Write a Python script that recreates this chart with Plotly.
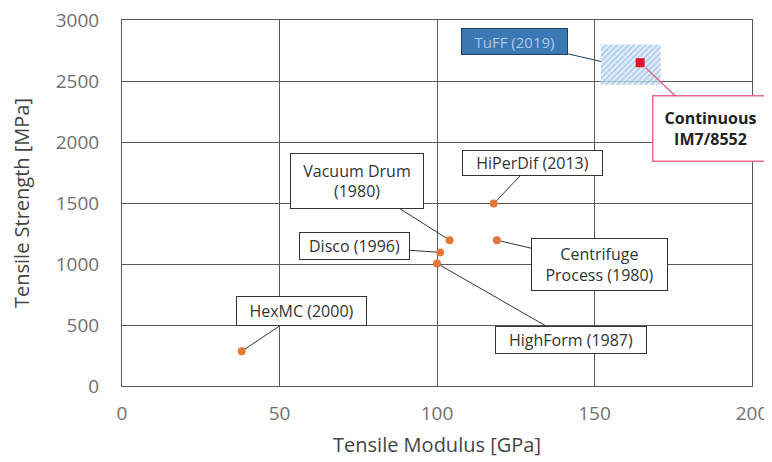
import plotly.graph_objects as go

# Data
labels = ["HexMC (2000)", "Vacuum Drum<br>(1980)", "Disco (1996)", "HighForm (1987)",
          "HiPerDif (2013)", "Centrifuge<br>Process (1980)"]
modulus = [38, 104, 101, 100, 118, 119]
strength = [285, 1195, 1095, 1005, 1495, 1195]

im7_modulus = [164.5]
im7_strength = [2650]
im7_label = "Continuous<br>IM7/8552"

tuff_label = "TuFF (2019)"
tuff_mod = [152, 171, 171, 152, 152]
tuff_str = [2470, 2470, 2800, 2800, 2470]

FONT = "Open Sans"
fig = go.Figure()

fig.add_trace(go.Scatter(
    x=tuff_mod, y=tuff_str, mode="lines", fill="toself",
    line=dict(width=0), fillcolor="rgba(255,255,255,0)",
    fillpattern=dict(shape="/", fgcolor="#6fa3d6", bgcolor="rgba(215,232,250,0.7)", size=4, solidity=0.4),
    hoverinfo="skip", showlegend=False))

fig.add_trace(go.Scatter(
    x=modulus, y=strength, mode="markers",
    marker=dict(color="#e5773a", size=8), showlegend=False))

fig.add_trace(go.Scatter(
    x=im7_modulus, y=im7_strength, mode="markers",
    marker=dict(color="#e8112d", size=9, symbol="square"), showlegend=False))

# callout styling: (ax, ay) offsets, box width, box height (pixels)
callouts = [(60, -40, 129, 28), (-93, -59, 132, 54), (-86, -6, 109, 26),
            (134, 77, 150, 26), (39, -41, 139, 24), (103, 24, 135, 51)]
for lab, xv, yv, (ax, ay, w, h) in zip(labels, modulus, strength, callouts):
    fig.add_annotation(
        x=xv, y=yv, text=lab, showarrow=True, arrowhead=0, arrowwidth=1,
        arrowcolor="#333333", ax=ax, ay=ay, standoff=4,
        width=w, height=h, borderpad=0,
        bgcolor="white", bordercolor="#333333", borderwidth=1,
        font=dict(family=FONT, size=16, color="#333333"))

fig.add_annotation(
    x=tuff_mod[0], y=2660, text=tuff_label, showarrow=True, arrowhead=0,
    arrowwidth=1, arrowcolor="#1f3f66", ax=-86, ay=-20,
    width=105, height=25, borderpad=0,
    bgcolor="#3b78b4", bordercolor="#1f3f66", borderwidth=1,
    font=dict(family=FONT, size=15, color="#a9cbef"))

fig.add_annotation(
    x=im7_modulus[0], y=im7_strength[0], text="<b>" + im7_label + "</b>",
    showarrow=True, arrowhead=0, arrowwidth=1.2, arrowcolor="#e0557a",
    ax=70, ay=66, standoff=8, width=114, height=64, borderpad=0,
    bgcolor="white", bordercolor="#e86a8c", borderwidth=1.5,
    font=dict(family=FONT, size=16, color="#222222"))

axis_common = dict(showgrid=True, gridcolor="#5a5a5a", gridwidth=1,
                   showline=True, linecolor="#5a5a5a", linewidth=1, mirror=True,
                   zeroline=False, ticks="", automargin=False,
                   ticklabeloverflow="allow",
                   tickfont=dict(family=FONT, size=19, color="#707070"))

fig.update_xaxes(range=[0, 200], dtick=50, ticklabelstandoff=10,
                 title=dict(text="Tensile Modulus [GPa]", font=dict(family=FONT, size=20, color="#444444"), standoff=13),
                 **axis_common)
fig.update_yaxes(range=[0, 3000], dtick=500, ticklabelstandoff=18,
                 title=dict(text="Tensile Strength [MPa]", font=dict(family=FONT, size=20, color="#444444"), standoff=20),
                 **axis_common)

fig.update_layout(
    width=764, height=454,
    margin=dict(l=114, r=20, t=12, b=76),
    plot_bgcolor="white", paper_bgcolor="white",
    font=dict(family=FONT),
)

fig.write_html("out.html")
